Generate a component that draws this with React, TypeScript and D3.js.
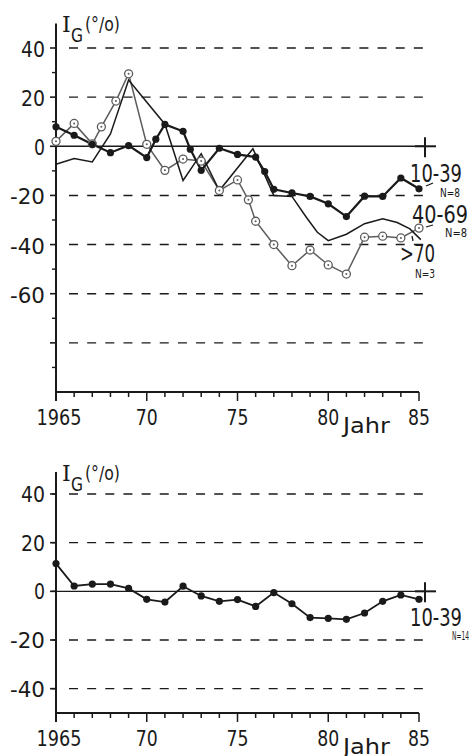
import React from "react";
import * as d3 from "d3";

// ---- data ----
// upper panel, 10-39 (N=8): filled dots
const aYears = [1965, 1966, 1967, 1968, 1969, 1970, 1970.5, 1971, 1972, 1972.4, 1973, 1974, 1975, 1976, 1976.5, 1977, 1978, 1979, 1980, 1981, 1982, 1983, 1984, 1985];
const aValues = [7.9, 4.5, 0.8, -2.6, 0.3, -4.6, 2.9, 8.9, 6.1, -1.2, -9.8, -0.8, -3.3, -4.4, -10.3, -17.5, -19, -20.4, -23.4, -28.6, -20.3, -20.4, -12.9, -17.3];

// upper panel, 40-69 (N=8): plain line
const bYears = [1965, 1966, 1967, 1968, 1969, 1971, 1972, 1973, 1974, 1975.85, 1977, 1978, 1978.8, 1979.4, 1980, 1981, 1982, 1983, 1983.8, 1984.5, 1985.1];
const bValues = [-7.3, -5, -6.4, 5, 27, 9, -13.9, -3, -18, -1, -20, -20.4, -29, -35, -38.4, -35.8, -31.5, -29.5, -31, -33.6, -38];

// upper panel, >70 (N=3): open circles
const cYears = [1965, 1966, 1967, 1967.5, 1968.3, 1969, 1970, 1971, 1972, 1973, 1974, 1975, 1975.6, 1976, 1977, 1978, 1979, 1980, 1981, 1982, 1983, 1984, 1985];
const cValues = [2, 9.3, 1, 7.9, 18.4, 29.5, 0.8, -9.8, -5.2, -6, -18, -13.7, -21.8, -30.5, -40, -48.6, -42.2, -48.3, -52, -37, -36.6, -37.3, -33.3];

// lower panel, 10-39 (N=14)
const dYears = [1965, 1966, 1967, 1968, 1969, 1970, 1971, 1972, 1973, 1974, 1975, 1976, 1977, 1978, 1979, 1980, 1981, 1982, 1983, 1984, 1985];
const dValues = [11.4, 2.2, 3, 3, 1.2, -3.3, -4.4, 2.1, -1.9, -4.1, -3.4, -6.2, -0.5, -5.1, -10.8, -11.1, -11.5, -8.9, -4.1, -1.5, -3.3];

const xTicks = [1965, 1970, 1975, 1980, 1985];
const xTickLabels = ["1965", "70", "75", "80", "85"];
const topLabelTicks = [40, 20, 0, -20, -40, -60];
const topGrid = [40, 20, -20, -40, -60, -80];
const botLabelTicks = [40, 20, 0, -20, -40];
const botGrid = [40, 20, -20, -40];

const INK = "#1a1a1a";
const GREY = "#5c5c5c";
const FONT = "'DejaVu Sans', sans-serif";

const x = d3.scaleLinear().domain([1965, 1985]).range([56, 419]);
const yTop = d3.scaleLinear().domain([-100, 40]).range([392, 48]);
const yBot = d3.scaleLinear().domain([-50, 40]).range([713, 494]);

const labelWidth = (s) => (s.length === 1 ? 11 : s.startsWith("-") ? 35 : 24);

const Label = ({ x, y, text, size, width, anchor = "start", family = FONT }) => {
  const x0 = anchor === "end" ? x - width : anchor === "middle" ? x - width / 2 : x;
  return (
    <text x={x0} y={y} fontSize={size} fontFamily={family} fill={INK} textLength={width} lengthAdjust="spacingAndGlyphs">
      {text}
    </text>
  );
};

const Panel = ({ y, yMin, yTopVal, labelled, grid, majorUnlabelled = [], dy }) => {
  const baseY = y(yMin);
  const minors = d3.range(yMin + 10, yTopVal, 20);
  const years = d3.range(1966, 1985);
  return (
    <g>
      {/* dashed grid */}
      {grid.map((v) => (
        <line key={"g" + v} x1={69} x2={425} y1={y(v)} y2={y(v)} stroke={INK} strokeWidth={1.4} strokeDasharray="9 9.15" />
      ))}
      {/* zero line and cross */}
      <line x1={x(1965)} x2={x(1985) + 6} y1={y(0)} y2={y(0)} stroke={INK} strokeWidth={1.4} />
      <line x1={x(1985) - 4} x2={x(1985) + 17} y1={y(0)} y2={y(0)} stroke={INK} strokeWidth={2} />
      <line x1={x(1985) + 6} x2={x(1985) + 6} y1={y(0) - 9} y2={y(0) + 11} stroke={INK} strokeWidth={2} />
      {/* y axis */}
      <line x1={x(1965)} x2={x(1965)} y1={y(yTopVal)} y2={baseY + 9} stroke={INK} strokeWidth={2} />
      {labelled.concat(majorUnlabelled).map((v) => (
        <line key={"t" + v} x1={x(1965) - 6} x2={x(1965)} y1={y(v)} y2={y(v)} stroke={INK} strokeWidth={1.6} />
      ))}
      {minors.map((v) => (
        <line key={"m" + v} x1={x(1965) - 4} x2={x(1965)} y1={y(v)} y2={y(v)} stroke={INK} strokeWidth={1.4} />
      ))}
      {labelled.map((v) => (
        <Label key={"l" + v} x={45} y={y(v) + dy} text={String(v)} size={22} width={labelWidth(String(v))} anchor="end" />
      ))}
      {/* x axis */}
      <line x1={x(1965)} x2={x(1985)} y1={baseY} y2={baseY} stroke={INK} strokeWidth={2} />
      {years.map((yr) => (
        <line key={"xm" + yr} x1={x(yr)} x2={x(yr)} y1={baseY} y2={baseY + (yr % 5 === 0 ? 9 : 5)} stroke={INK} strokeWidth={1.5} />
      ))}
      <line x1={x(1985)} x2={x(1985)} y1={baseY} y2={baseY + 9} stroke={INK} strokeWidth={1.5} />
      {xTicks.map((t, i) => (
        <Label key={"xl" + t} x={x(t) + (i === 0 ? 3 : 0)} y={baseY + 33} text={xTickLabels[i]} size={22} width={i === 0 ? 45 : 22} anchor="middle" />
      ))}
      <Label x={343} y={baseY + 41} text="Jahr" size={21} width={47} />
      {/* axis title */}
      <text x={62} y={y(yTopVal) + 9} fontSize={22} fontFamily="'DejaVu Serif', serif" fill={INK}>I</text>
      <Label x={71} y={y(yTopVal) + 19} text="G" size={20} width={12} />
      <Label x={85} y={y(yTopVal) + 8} text="(°/o)" size={19} width={35} />
    </g>
  );
};

const pathOf = (years, values, y) =>
  d3.line().x((d) => x(d[0])).y((d) => y(d[1]))(years.map((yr, i) => [yr, values[i]]));

export default function App() {
  return (
    <svg width={469} height={756} style={{ position: "absolute", left: 0, top: 0, background: "#fff" }}>
      <rect width={469} height={756} fill="#fff" />
      <Panel y={yTop} yMin={-100} yTopVal={50} labelled={topLabelTicks} majorUnlabelled={[-80]} grid={topGrid} dy={9} />
      <Panel y={yBot} yMin={-50} yTopVal={49} labelled={botLabelTicks} grid={botGrid} dy={8} />

      {/* upper panel series */}
      <path d={pathOf(cYears, cValues, yTop)} fill="none" stroke={GREY} strokeWidth={1.5} />
      <path d={pathOf(bYears, bValues, yTop)} fill="none" stroke={INK} strokeWidth={1.5} />
      <path d={pathOf(aYears, aValues, yTop)} fill="none" stroke={INK} strokeWidth={2.2} />
      {cYears.map((yr, i) => (
        <g key={"c" + i}>
          <circle cx={x(yr)} cy={yTop(cValues[i])} r={4} fill="#fff" stroke={GREY} strokeWidth={1.3} />
          <circle cx={x(yr)} cy={yTop(cValues[i])} r={1} fill={GREY} />
        </g>
      ))}
      {aYears.map((yr, i) => (
        <circle key={"a" + i} cx={x(yr)} cy={yTop(aValues[i])} r={3.6} fill={INK} />
      ))}

      {/* lower panel series */}
      <path d={pathOf(dYears, dValues, yBot)} fill="none" stroke={INK} strokeWidth={1.8} />
      {dYears.map((yr, i) => (
        <circle key={"d" + i} cx={x(yr)} cy={yBot(dValues[i])} r={3.6} fill={INK} />
      ))}

      {/* series labels */}
      <Label x={410} y={182} text="10-39" size={24} width={52} />
      <Label x={440} y={197} text="N=8" size={12} width={20} />
      <line x1={426} y1={186} x2={433} y2={183} stroke={INK} strokeWidth={1.3} />
      <Label x={412} y={223} text="40-69" size={24} width={56} />
      <Label x={445} y={237} text="N=8" size={12} width={22} />
      <line x1={426} y1={227} x2={433} y2={225} stroke={INK} strokeWidth={1.3} />
      <Label x={400} y={262} text=">70" size={24} width={35} />
      <Label x={415} y={278} text="N=3" size={12} width={20} />
      <line x1={412} y1={236} x2={413} y2={241} stroke={INK} strokeWidth={1.3} />

      <Label x={410} y={626} text="10-39" size={24} width={52} />
      <Label x={452} y={640} text="N=14" size={12} width={17} />
    </svg>
  );
}
